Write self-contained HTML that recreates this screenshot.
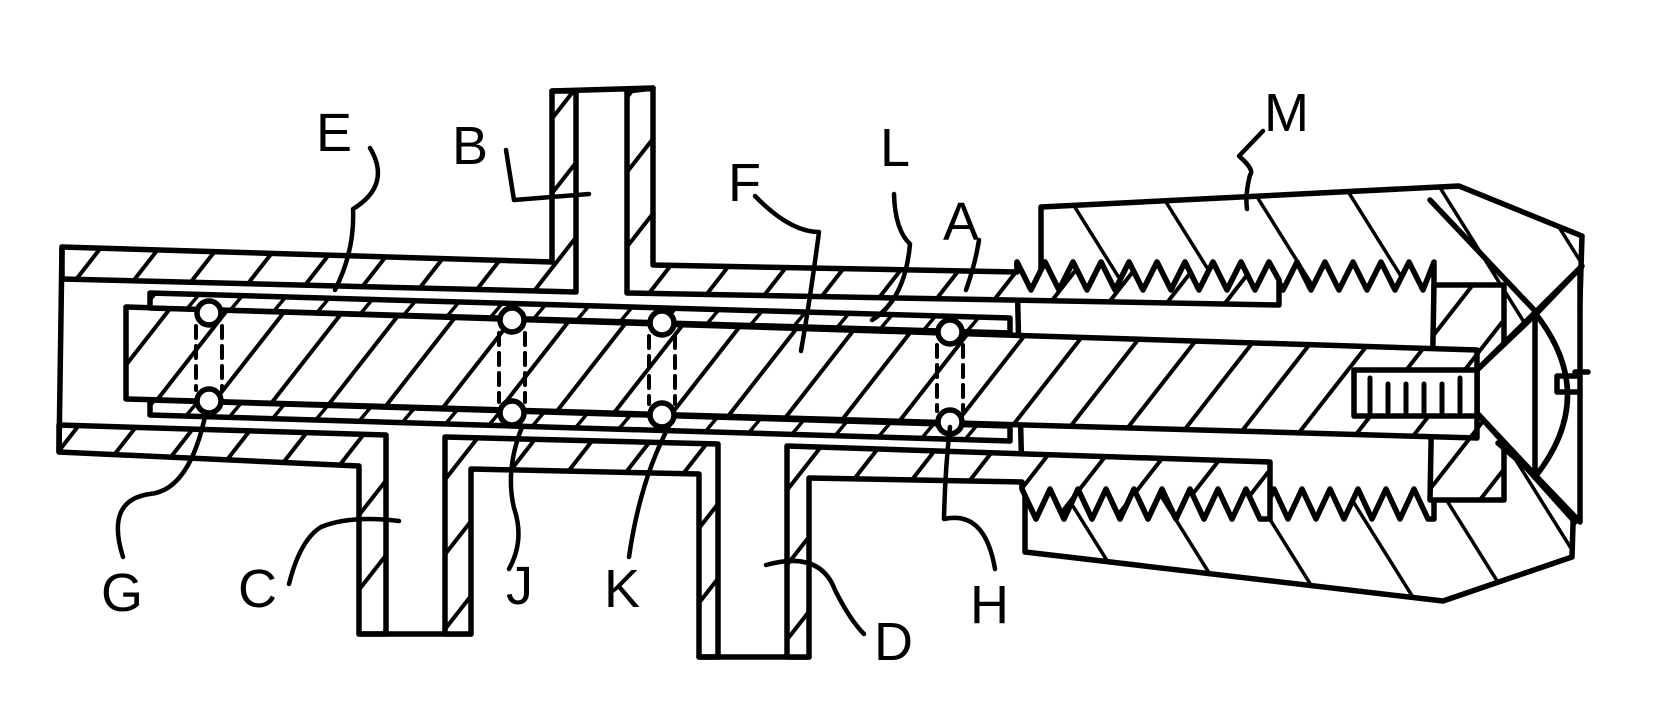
<!DOCTYPE html>
<html><head><meta charset="utf-8"><style>
html,body{margin:0;padding:0;background:#fff;}
svg{display:block;}
text{font-family:"Liberation Sans",sans-serif;font-size:54px;fill:#000;}
</style></head><body>
<svg width="1680" height="723" viewBox="0 0 1680 723" xmlns="http://www.w3.org/2000/svg">
<defs>
<pattern id="hb" width="46" height="46" patternUnits="userSpaceOnUse" patternTransform="rotate(38)">
<rect width="46" height="46" fill="#fff"/><line x1="0" y1="0" x2="0" y2="46" stroke="#000" stroke-width="8"/></pattern>
<pattern id="hs" width="34" height="34" patternUnits="userSpaceOnUse" patternTransform="rotate(40)">
<rect width="34" height="34" fill="#fff"/><line x1="0" y1="0" x2="0" y2="34" stroke="#000" stroke-width="7"/></pattern>
<pattern id="hn" width="80" height="80" patternUnits="userSpaceOnUse" patternTransform="rotate(-32)">
<rect width="80" height="80" fill="#fff"/><line x1="0" y1="0" x2="0" y2="80" stroke="#000" stroke-width="7"/></pattern>
</defs>
<g stroke="#000" stroke-width="5.5" stroke-linejoin="round" stroke-linecap="round">
<polygon points="1041,207 1459,186 1582,236 1572,557 1443,601 1025,552 1025,496 1041,274" fill="url(#hn)"/>
<polygon points="1017,272 1017,262 1031,290 1045,262 1059,290 1073,262 1087,290 1101,262 1115,290 1129,262 1143,290 1157,262 1171,290 1185,262 1199,290 1213,262 1227,290 1241,262 1255,290 1269,262 1283,290 1297,262 1311,290 1325,262 1339,290 1353,262 1367,290 1381,262 1395,290 1409,262 1423,290 1434,262 1434,519 1428,519 1414,489 1400,519 1386,489 1372,519 1358,489 1344,519 1330,489 1316,519 1302,489 1288,519 1274,489 1260,519 1246,489 1232,519 1218,489 1204,519 1190,489 1176,519 1162,489 1148,519 1134,489 1120,519 1106,489 1092,519 1078,489 1064,519 1050,489 1036,519 1022,489 1022,482" fill="#fff"/>
<polygon points="1434,285 1504,285 1504,500 1430,500" fill="url(#hb)"/>
<polygon points="1477,370 1537,313 1580,268 1580,522 1537,477 1477,413" fill="#fff"/>
<line x1="1477" y1="370" x2="1582" y2="266"/>
<line x1="1477" y1="413" x2="1575" y2="522"/>
<line x1="1430" y1="200" x2="1537" y2="313"/>
<line x1="1498" y1="443" x2="1537" y2="477"/>
<line x1="1535" y1="313" x2="1535" y2="477"/>
<path d="M1535,313 Q1600,395 1535,477" fill="none"/>
<path d="M1578,376 L1557,376 L1557,392 L1578,392" fill="none"/>
<line x1="1575" y1="372" x2="1588" y2="372"/>
<polygon points="62,247 552,262 552,91 576,91 576,292 62,279" fill="url(#hb)"/>
<polygon points="627,91 653,88 653,265 1017,272 1017,262 1031,290 1045,262 1059,290 1073,262 1087,290 1101,262 1115,290 1129,262 1143,290 1157,262 1171,290 1185,262 1199,290 1213,262 1227,290 1241,262 1255,290 1269,262 1279,280 1279,305 627,293" fill="url(#hb)"/>
<line x1="552" y1="91" x2="653" y2="88"/>
<polygon points="59,425 386,435 386,634 359,634 359,466 59,452" fill="url(#hb)"/>
<line x1="359" y1="634" x2="471" y2="634"/>
<polygon points="445,437 718,444 718,657 699,657 699,474 471,469 471,634 445,634" fill="url(#hb)"/>
<line x1="699" y1="657" x2="809" y2="657"/>
<polygon points="787,446 1270,462 1270,519 1260,519 1246,489 1232,519 1218,489 1204,519 1190,489 1176,519 1162,489 1148,519 1134,489 1120,519 1106,489 1092,519 1078,489 1064,519 1050,489 1036,519 1022,489 1022,482 809,478 809,657 787,657" fill="url(#hb)"/>
<line x1="62" y1="247" x2="59" y2="452"/>
<polygon points="126,307 1477,350 1477,438 126,399" fill="url(#hb)"/>
<polygon points="150,293 1010,318 1010,333 150,308" fill="url(#hs)"/>
<polygon points="150,400 1010,426 1010,441 150,415" fill="url(#hs)"/>
<rect x="1354" y="370" width="123" height="46" fill="#fff"/>
<g stroke-width="5"><line x1="1370" y1="378" x2="1370" y2="412"/><line x1="1388" y1="384" x2="1388" y2="412"/><line x1="1406" y1="384" x2="1406" y2="412"/><line x1="1424" y1="384" x2="1424" y2="412"/><line x1="1442" y1="384" x2="1442" y2="412"/><line x1="1460" y1="378" x2="1460" y2="412"/></g>
<g fill="#fff">
<circle cx="209" cy="313" r="12"/><circle cx="209" cy="401" r="12"/>
<circle cx="512" cy="320" r="12"/><circle cx="512" cy="413" r="12"/>
<circle cx="662" cy="323" r="12"/><circle cx="662" cy="415" r="12"/>
<circle cx="950" cy="332" r="12"/><circle cx="950" cy="422" r="12"/>
</g>
<g stroke-dasharray="12,8" stroke-width="4">
<line x1="196" y1="326" x2="196" y2="390"/><line x1="222" y1="326" x2="222" y2="390"/>
<line x1="499" y1="333" x2="499" y2="402"/><line x1="525" y1="333" x2="525" y2="402"/>
<line x1="649" y1="336" x2="649" y2="404"/><line x1="675" y1="336" x2="675" y2="404"/>
<line x1="937" y1="345" x2="937" y2="411"/><line x1="963" y1="345" x2="963" y2="411"/>
</g>
<g fill="none" stroke-width="4.5">
<path d="M370,148 Q392,185 353,209 Q355,250 335,290"/>
<path d="M506,150 L514,200 L589,194"/>
<path d="M755,196 Q790,232 819,232 Q810,300 801,351"/>
<path d="M123,557 Q105,500 150,494 Q190,490 206,412"/>
<path d="M289,584 Q300,540 321,527 Q350,515 399,521"/>
<path d="M509,569 Q525,540 514,508 Q505,470 522,427"/>
<path d="M629,557 Q640,480 670,424"/>
<path d="M766,565 Q820,550 835,590 Q850,620 864,634"/>
<path d="M894,194 Q895,230 910,244 Q905,300 872,320"/>
<path d="M979,240 Q975,265 966,290"/>
<path d="M1263,131 L1239,156 Q1255,170 1250,175 Q1245,195 1247,209"/>
<path d="M950,427 Q945,470 944,519 Q985,510 995,569"/>
</g>
</g>
<text x="316" y="151">E</text>
<text x="452" y="164">B</text>
<text x="728" y="201">F</text>
<text x="101" y="611">G</text>
<text x="238" y="607">C</text>
<text x="506" y="604">J</text>
<text x="604" y="607">K</text>
<text x="880" y="166">L</text>
<text x="943" y="240">A</text>
<text x="1264" y="131">M</text>
<text x="970" y="623">H</text>
<text x="874" y="660">D</text>
</svg>
</body></html>
